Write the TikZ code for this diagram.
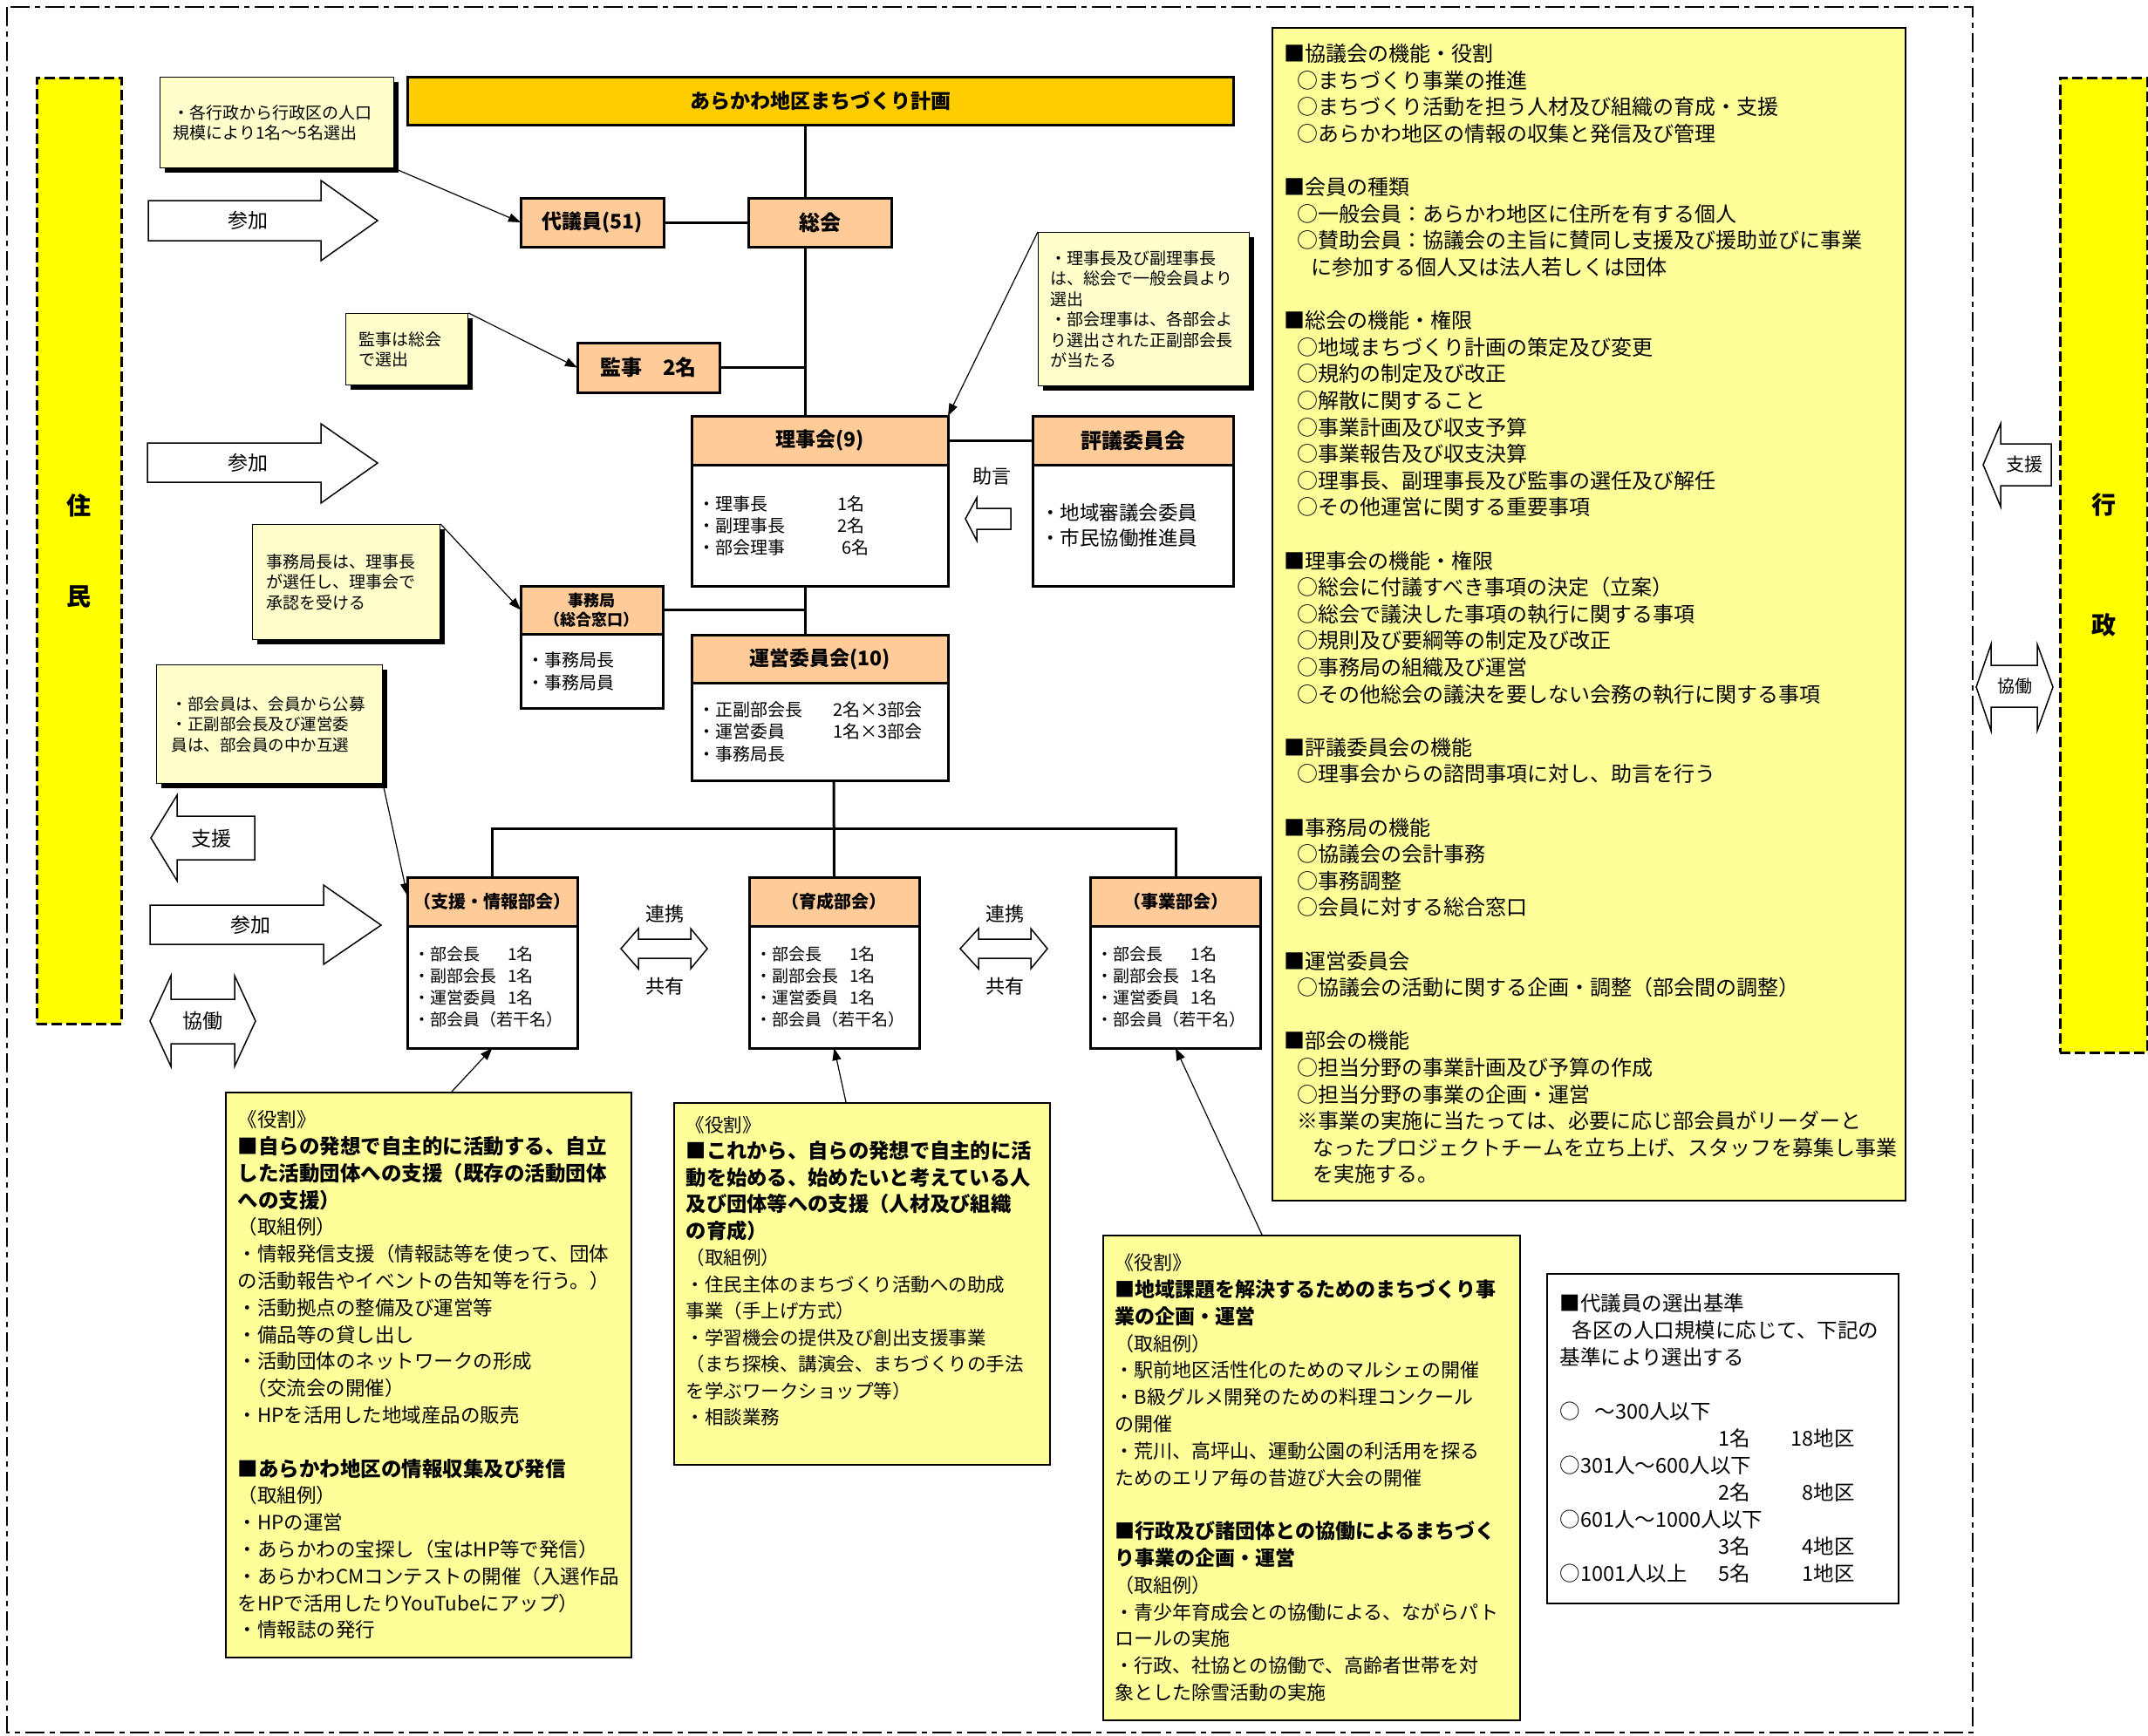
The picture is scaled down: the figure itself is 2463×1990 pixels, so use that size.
\documentclass[tikz,border=0pt]{standalone}
\usepackage{fontspec}
\setmainfont{Noto Sans CJK JP}
\usetikzlibrary{positioning,shadows,arrows.meta}

\definecolor{plancol}{HTML}{FFCC00}
\definecolor{hdrcol}{HTML}{FFCC99}
\definecolor{notecol}{HTML}{FFFFCC}
\definecolor{rolecol}{HTML}{FFFF99}
\definecolor{barcol}{HTML}{FFFF00}

\newcommand{\jfs}[2]{\fontsize{#1}{#2}\selectfont}
\newcommand{\pind}{\hspace*{15pt}}
\newcommand{\bukailist}{\makebox[108pt][l]{・部会長}1名\\\makebox[108pt][l]{・副部会長}1名\\\makebox[108pt][l]{・運営委員}1名\\・部会員（若干名）}

\tikzset{
  outerline/.style={line width=2.5pt, dash pattern=on 22pt off 6pt on 6pt off 6pt},
  sidebar/.style={draw, line width=2.5pt, fill=barcol, dash pattern=on 12pt off 5pt, anchor=north west, inner sep=0pt, align=center},
  hdr/.style={draw, line width=3pt, fill=hdrcol, inner sep=0pt, outer sep=0pt, align=center, font=\bfseries\jfs{23}{27}},
  body/.style={draw, line width=3pt, fill=white, anchor=north, inner xsep=7pt, inner ysep=0pt, outer sep=0pt, align=left, font=\jfs{20}{25}},
  note/.style={draw, line width=1.2pt, fill=notecol, anchor=north west, inner ysep=0pt, align=left, font=\jfs{19}{23.5}, general shadow={fill=black, shadow xshift=5pt, shadow yshift=-5pt}},
  role/.style={draw, line width=1.5pt, fill=rolecol, anchor=north west, inner xsep=14pt, inner ysep=0pt, align=left},
  link/.style={line width=3pt},
  ptr/.style={line width=1.2pt, -{Triangle[length=14pt,width=10pt]}},
  blk/.style={draw, line width=1.5pt, fill=white, line join=miter},
  arrtxt/.style={inner sep=0pt, font=\jfs{23}{23}},
}

\begin{document}
\begin{tikzpicture}[x=1pt, y=-1pt]
\useasboundingbox (0,0) rectangle (2463,1990);
\draw[outerline] (8,8) rectangle (2262,1987);

\node[sidebar, minimum width=97pt, minimum height=1085pt, font=\bfseries\jfs{28}{104}] (jumin) at (41,88) {住\\民};
\node[sidebar, minimum width=100pt, minimum height=1118pt, font=\bfseries\jfs{28}{138}] (gyosei) at (2361,88) {行\\政};

\node[hdr, fill=plancol, minimum width=947pt, minimum height=55pt] (plan) at (940.5,115.5) {あらかわ地区まちづくり計画};
\node[hdr, minimum width=164pt, minimum height=56pt] (daigiin) at (679,255) {代議員(51)};
\node[hdr, minimum width=164pt, minimum height=56pt, font=\bfseries\jfs{24}{28}] (sokai) at (940,255) {総会};
\node[hdr, minimum width=163pt, minimum height=57pt, font=\bfseries\jfs{24}{28}] (kanji) at (743.5,421.5) {監事　2名};

\node[hdr, minimum width=294pt, minimum height=56pt] (riji) at (940,505) {理事会(9)};
\node[body, minimum width=294pt, minimum height=139pt, text width=280pt] (rijibody) at (riji.south)
  {\makebox[160pt][l]{・理事長}1名\\\makebox[160pt][l]{・副理事長}2名\\\makebox[165pt][l]{・部会理事}6名};
\node[hdr, minimum width=230pt, minimum height=56pt, font=\bfseries\jfs{24}{28}] (hyogi) at (1299,505) {評議委員会};
\node[body, minimum width=230pt, minimum height=139pt, inner xsep=9pt, text width=212pt, font=\jfs{22.5}{29}] (hyogibody) at (hyogi.south)
  {・地域審議会委員\\・市民協働推進員};

\node[hdr, minimum width=163pt, minimum height=55pt, font=\bfseries\jfs{18}{22}] (jimu) at (678.5,699.5) {事務局\\（総合窓口）};
\node[body, minimum width=163pt, minimum height=85pt, text width=149pt, font=\jfs{20}{26}] (jimubody) at (jimu.south) {・事務局長\\・事務局員};

\node[hdr, minimum width=294pt, minimum height=55pt] (unei) at (940,755.5) {運営委員会(10)};
\node[body, minimum width=294pt, minimum height=112pt, text width=280pt, font=\jfs{20}{25.5}] (uneibody) at (unei.south)
  {\makebox[155pt][l]{・正副部会長}2名×3部会\\\makebox[155pt][l]{・運営委員}1名×3部会\\・事務局長};

\node[hdr, minimum width=195pt, minimum height=56pt, font=\bfseries\jfs{20}{24}] (sien) at (564.5,1034) {（支援・情報部会）};
\node[body, minimum width=195pt, minimum height=140pt, text width=181pt, font=\jfs{19}{25}] (sienbody) at (sien.south) {\bukailist};
\node[hdr, minimum width=195pt, minimum height=56pt, font=\bfseries\jfs{20}{24}] (ikusei) at (956.5,1034) {（育成部会）};
\node[body, minimum width=195pt, minimum height=140pt, text width=181pt, font=\jfs{19}{25}] (ikuseibody) at (ikusei.south) {\bukailist};
\node[hdr, minimum width=195pt, minimum height=56pt, font=\bfseries\jfs{20}{24}] (jigyo) at (1348,1034) {（事業部会）};
\node[body, minimum width=195pt, minimum height=140pt, text width=181pt, font=\jfs{19}{25}] (jigyobody) at (jigyo.south) {\bukailist};

\node[note, minimum width=268pt, minimum height=104pt, inner xsep=15pt, text width=238pt] (daiginote) at (183,88)
  {・各行政から行政区の人口\\規模により1名～5名選出};
\node[note, minimum width=140pt, minimum height=82pt, inner xsep=15pt, text width=110pt] (kanjinote) at (396,359)
  {監事は総会\\で選出};
\node[note, minimum width=242pt, minimum height=176pt, inner xsep=14pt, text width=214pt] (rijinote) at (1190,266)
  {・理事長及び副理事長\\は、総会で一般会員より\\選出\\・部会理事は、各部会よ\\り選出された正副部会長\\が当たる};
\node[note, minimum width=215pt, minimum height=132pt, inner xsep=16pt, text width=183pt] (jiminote) at (289,601)
  {事務局長は、理事長\\が選任し、理事会で\\承認を受ける};
\node[note, minimum width=259pt, minimum height=136pt, inner xsep=17pt, text width=225pt, font=\jfs{18.5}{23.5}] (bukainote) at (179,762)
  {・部会員は、会員から公募\\・正副部会長及び運営委\\員は、部会員の中か互選};

\node[role, minimum width=465pt, minimum height=648pt, text width=437pt, font=\jfs{22.5}{30.8}] (sienrole) at (258,1252)
  {《役割》\\
  {\bfseries\jfs{23.5}{30.8}■自らの発想で自主的に活動する、自立\\した活動団体への支援（既存の活動団体\\への支援）}\\
  （取組例）\\
  ・情報発信支援（情報誌等を使って、団体\\
  の活動報告やイベントの告知等を行う。）\\
  ・活動拠点の整備及び運営等\\
  ・備品等の貸し出し\\
  ・活動団体のネットワークの形成\\
  \hspace*{11pt}（交流会の開催）\\
  ・HPを活用した地域産品の販売\\[30.8pt]
  {\bfseries\jfs{23.5}{30.8}■あらかわ地区の情報収集及び発信}\\
  （取組例）\\
  ・HPの運営\\
  ・あらかわの宝探し（宝はHP等で発信）\\
  ・あらかわCMコンテストの開催（入選作品\\
  をHPで活用したりYouTubeにアップ）\\
  ・情報誌の発行};
\node[role, minimum width=431pt, minimum height=415pt, text width=403pt, font=\jfs{21.5}{30.5}] (ikuseirole) at (772,1264)
  {《役割》\\
  {\bfseries\jfs{23.3}{30.5}■これから、自らの発想で自主的に活\\動を始める、始めたいと考えている人\\及び団体等への支援（人材及び組織\\の育成）}\\
  （取組例）\\
  ・住民主体のまちづくり活動への助成\\
  事業（手上げ方式）\\
  ・学習機会の提供及び創出支援事業\\
  （まち探検、講演会、まちづくりの手法\\
  を学ぶワークショップ等）\\
  ・相談業務\\
  \mbox{}};
\node[role, minimum width=478pt, minimum height=556pt, text width=450pt, font=\jfs{22}{30.8}] (jigyorole) at (1264,1416)
  {《役割》\\
  {\bfseries\jfs{23}{30.8}■地域課題を解決するためのまちづくり事\\業の企画・運営}\\
  （取組例）\\
  ・駅前地区活性化のためのマルシェの開催\\
  ・B級グルメ開発のための料理コンクール\\
  の開催\\
  ・荒川、高坪山、運動公園の利活用を探る\\
  ためのエリア毎の昔遊び大会の開催\\[30.8pt]
  {\bfseries\jfs{23}{30.8}■行政及び諸団体との協働によるまちづく\\り事業の企画・運営}\\
  （取組例）\\
  ・青少年育成会との協働による、ながらパト\\
  ロールの実施\\
  ・行政、社協との協働で、高齢者世帯を対\\
  象とした除雪活動の実施};

\node[role, minimum width=726pt, minimum height=1345pt, text width=698pt, font=\jfs{24}{30.6}] (kinou) at (1458,31)
  {■協議会の機能・役割\\
  \pind○まちづくり事業の推進\\
  \pind○まちづくり活動を担う人材及び組織の育成・支援\\
  \pind○あらかわ地区の情報の収集と発信及び管理\\[30.6pt]
  ■会員の種類\\
  \pind○一般会員：あらかわ地区に住所を有する個人\\
  \pind○賛助会員：協議会の主旨に賛同し支援及び援助並びに事業\\
  \hspace*{31pt}に参加する個人又は法人若しくは団体\\[30.6pt]
  ■総会の機能・権限\\
  \pind○地域まちづくり計画の策定及び変更\\
  \pind○規約の制定及び改正\\
  \pind○解散に関すること\\
  \pind○事業計画及び収支予算\\
  \pind○事業報告及び収支決算\\
  \pind○理事長、副理事長及び監事の選任及び解任\\
  \pind○その他運営に関する重要事項\\[30.6pt]
  ■理事会の機能・権限\\
  \pind○総会に付議すべき事項の決定（立案）\\
  \pind○総会で議決した事項の執行に関する事項\\
  \pind○規則及び要綱等の制定及び改正\\
  \pind○事務局の組織及び運営\\
  \pind○その他総会の議決を要しない会務の執行に関する事項\\[30.6pt]
  ■評議委員会の機能\\
  \pind○理事会からの諮問事項に対し、助言を行う\\[30.6pt]
  ■事務局の機能\\
  \pind○協議会の会計事務\\
  \pind○事務調整\\
  \pind○会員に対する総合窓口\\[30.6pt]
  ■運営委員会\\
  \pind○協議会の活動に関する企画・調整（部会間の調整）\\[30.6pt]
  ■部会の機能\\
  \pind○担当分野の事業計画及び予算の作成\\
  \pind○担当分野の事業の企画・運営\\
  \pind※事業の実施に当たっては、必要に応じ部会員がリーダーと\\
  \hspace*{33pt}なったプロジェクトチームを立ち上げ、スタッフを募集し事業\\
  \hspace*{33pt}を実施する。};

\node[role, fill=white, minimum width=403pt, minimum height=378pt, inner xsep=15pt, text width=373pt, font=\jfs{23.5}{31}] (kijun) at (1773,1460)
  {■代議員の選出基準\\
  \hspace*{14pt}各区の人口規模に応じて、下記の\\
  基準により選出する\\[31pt]
  ○\hspace{0.7em}～300人以下\\
  \makebox[182pt][l]{}\makebox[109pt][l]{1名\hfill 18}地区\\
  ○301人～600人以下\\
  \makebox[182pt][l]{}\makebox[109pt][l]{2名\hfill 8}地区\\
  ○601人～1000人以下\\
  \makebox[182pt][l]{}\makebox[109pt][l]{3名\hfill 4}地区\\
  \makebox[182pt][l]{○1001人以上}\makebox[109pt][l]{5名\hfill 1}地区};

\coordinate (spine) at (923,0);
\coordinate (bus) at (956,950);
\draw[link] (plan.south -| spine) -- (sokai.north -| spine);
\draw[link] (sokai.south -| spine) -- (riji.north -| spine);
\draw[link] (daigiin.east) -- (daigiin.east -| sokai.west);
\draw[link] (kanji.east) -- (kanji.east -| spine);
\draw[link] (riji.east) -- (hyogi.west);
\draw[link] (rijibody.south -| spine) -- (unei.north -| spine);
\draw[link] (jimu.east) -- (jimu.east -| spine);
\draw[link] (uneibody.south -| bus) -- (ikusei.north);
\draw[link] (sien.north) |- (bus) -| (jigyo.north);

\draw[ptr] (daiginote.south east) -- (daigiin.west);
\draw[ptr] (kanjinote.north east) -- (kanji.west);
\draw[ptr] (rijinote.north west) -- (riji.north east);
\draw[ptr] (jiminote.north east) -- (jimu.west);
\draw[ptr] (bukainote.south east) -- ([yshift=-21pt]sien.north west);
\draw[ptr] ([xshift=260pt]sienrole.north west) -- (sienbody.south);
\draw[ptr] ([xshift=198pt]ikuseirole.north west) -- (ikuseibody.south);
\draw[ptr] ([xshift=183pt]jigyorole.north west) -- (jigyobody.south);

\draw[blk] (170,230) -- (368,230) -- (368,207) -- (433,253) -- (368,299) -- (368,276) -- (170,276) -- cycle;
\node[arrtxt] (join1) at (284,253) {参加};
\draw[blk] (169,508) -- (368,508) -- (368,486) -- (433,531) -- (368,577) -- (368,553) -- (169,553) -- cycle;
\node[arrtxt] (join2) at (284,531) {参加};
\draw[blk] (173,961) -- (203,912) -- (203,936) -- (292,936) -- (292,986) -- (203,986) -- (203,1010) -- cycle;
\node[arrtxt] (aidl) at (242,962) {支援};
\draw[blk] (172,1038) -- (371,1038) -- (371,1015) -- (437,1061) -- (371,1106) -- (371,1083) -- (172,1083) -- cycle;
\node[arrtxt] (join3) at (287,1061) {参加};
\draw[blk] (172,1171) -- (196,1119) -- (196,1146) -- (269,1146) -- (269,1119) -- (293,1171) -- (269,1223) -- (269,1197) -- (196,1197) -- (196,1223) -- cycle;
\node[arrtxt] (coopl) at (232,1171) {協働};

\draw[blk] (2274,533) -- (2294,486) -- (2294,509) -- (2352,509) -- (2352,557) -- (2294,557) -- (2294,581) -- cycle;
\node[arrtxt, font=\jfs{21}{21}] (aidr) at (2321,533) {支援};
\draw[blk] (2266,788) -- (2283,739) -- (2283,763) -- (2336,763) -- (2336,739) -- (2354,788) -- (2336,838) -- (2336,811) -- (2283,811) -- (2283,838) -- cycle;
\node[arrtxt, font=\jfs{20}{20}] (coopr) at (2310,787) {協働};

\draw[blk] (1107,595) -- (1120,571) -- (1120,583) -- (1159,583) -- (1159,607) -- (1120,607) -- (1120,620) -- cycle;
\node[arrtxt, font=\jfs{22}{22}] (advice) at (1137,546) {助言};

\draw[blk] (712,1088) -- (732,1065) -- (732,1077) -- (792,1077) -- (792,1065) -- (811,1088) -- (792,1111) -- (792,1099) -- (732,1099) -- (732,1111) -- cycle;
\node[arrtxt, font=\jfs{22}{22}] (renkei1) at (762,1048) {連携};
\node[arrtxt, font=\jfs{22}{22}] (kyoyu1) at (762,1131) {共有};
\draw[blk] (1101,1088) -- (1122,1065) -- (1122,1077) -- (1182,1077) -- (1182,1065) -- (1201,1088) -- (1182,1111) -- (1182,1099) -- (1122,1099) -- (1122,1111) -- cycle;
\node[arrtxt, font=\jfs{22}{22}] (renkei2) at (1152,1048) {連携};
\node[arrtxt, font=\jfs{22}{22}] (kyoyu2) at (1152,1131) {共有};
\end{tikzpicture}
\end{document}
